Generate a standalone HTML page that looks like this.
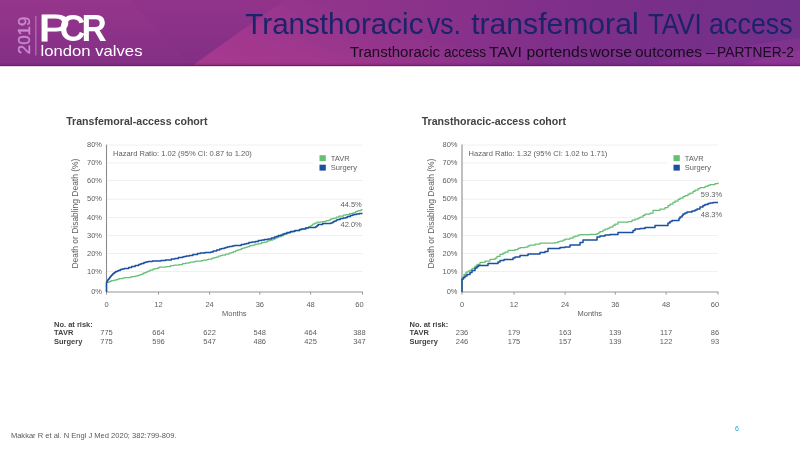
<!DOCTYPE html>
<html><head><meta charset="utf-8"><title>Transthoracic vs. transfemoral TAVI access</title>
<style>
html,body{margin:0;padding:0;background:#fff;}
body{width:800px;height:450px;overflow:hidden;}
svg{display:block;font-family:"Liberation Sans", Arial, sans-serif;}
</style></head><body>
<svg width="800" height="450" viewBox="0 0 800 450">
<rect width="800" height="450" fill="#fff"/>

<defs>
<linearGradient id="hg" x1="0" y1="0" x2="1" y2="0">
<stop offset="0" stop-color="#94358a"/>
<stop offset="0.36" stop-color="#93348b"/>
<stop offset="0.6" stop-color="#87318a"/>
<stop offset="0.72" stop-color="#7d2f89"/>
<stop offset="1" stop-color="#71308a"/>
</linearGradient>
<linearGradient id="sh" x1="0" y1="0" x2="0" y2="1">
<stop offset="0" stop-color="#000" stop-opacity="0"/>
<stop offset="1" stop-color="#000" stop-opacity="0.18"/>
</linearGradient>
<linearGradient id="dk" gradientUnits="userSpaceOnUse" x1="0" y1="0" x2="0" y2="66">
<stop offset="0" stop-color="#95358b"/>
<stop offset="0.3" stop-color="#90348a"/>
<stop offset="0.7" stop-color="#883187"/>
<stop offset="1" stop-color="#843085"/>
</linearGradient>
<linearGradient id="lt" gradientUnits="userSpaceOnUse" x1="270" y1="86" x2="306" y2="-18">
<stop offset="0" stop-color="#a6388f" stop-opacity="1"/>
<stop offset="0.35" stop-color="#a4388f" stop-opacity="0.9"/>
<stop offset="1" stop-color="#9a368d" stop-opacity="0"/>
</linearGradient>
</defs>
<rect x="0" y="0" width="800" height="70" fill="url(#hg)"/>
<polygon points="191.5,66 284,0 306,0 530,70 186,70" fill="url(#lt)"/>
<polygon points="0,0 284,0 191.5,66 186,70 0,70" fill="url(#dk)"/>
<polygon points="130,0 284,0 191.5,66" fill="#7c2c84" opacity="0.12"/>
<polygon points="640,66 700,54 750,45 800,38 800,70 640,70" fill="#8b3393" opacity="0.6"/>
<polygon points="735,66 800,50 800,70 735,70" fill="#9a379c" opacity="0.5"/>
<rect x="0" y="63.5" width="800" height="1.5" fill="#5a1d60" opacity="0.25"/>
<rect x="0" y="65" width="800" height="1" fill="#652266"/>
<rect x="0" y="66" width="800" height="1" fill="#e6d6e6"/>
<rect x="0" y="67" width="800" height="6" fill="#fff"/>
<!-- logo -->
<text transform="translate(29.8,54.2) rotate(-90)" font-size="16.8" fill="#c98bd0" stroke="#c98bd0" stroke-width="0.35" textLength="37.6" lengthAdjust="spacingAndGlyphs">2019</text>
<line x1="35.9" y1="15.9" x2="35.9" y2="55.4" stroke="#bd7fc4" stroke-width="1"/>
<text y="41.2" font-size="37.5" font-weight="bold" fill="#fff"><tspan x="38.63" textLength="31.46" lengthAdjust="spacingAndGlyphs" font-weight="normal" stroke="#fff" stroke-width="1.2" stroke-linejoin="round">P</tspan><tspan x="59.53" textLength="25.84" lengthAdjust="spacingAndGlyphs">C</tspan><tspan x="81.56" textLength="25.26" lengthAdjust="spacingAndGlyphs">R</tspan></text>
<text x="40.5" y="55.8" font-size="14.4" fill="#fff" textLength="102" lengthAdjust="spacingAndGlyphs">london valves</text>
<!-- titles -->
<text y="33.7" font-size="29.5" fill="#1b2369"><tspan x="245.3" textLength="178.2" lengthAdjust="spacingAndGlyphs">Transthoracic</tspan> <tspan x="427" textLength="34.0" lengthAdjust="spacingAndGlyphs">vs.</tspan> <tspan x="471.2" textLength="167.4" lengthAdjust="spacingAndGlyphs">transfemoral</tspan> <tspan x="647.9" textLength="53.8" lengthAdjust="spacingAndGlyphs">TAVI</tspan> <tspan x="709" textLength="83.8" lengthAdjust="spacingAndGlyphs">access</tspan></text>
<text y="57" font-size="15.4" fill="#1a0a20"><tspan x="349.9" textLength="90.2" lengthAdjust="spacingAndGlyphs">Transthoracic</tspan> <tspan x="443.9" textLength="42.2" lengthAdjust="spacingAndGlyphs">access</tspan> <tspan x="489" textLength="33.0" lengthAdjust="spacingAndGlyphs">TAVI</tspan> <tspan x="526.4" textLength="61.4" lengthAdjust="spacingAndGlyphs">portends</tspan> <tspan x="589.6" textLength="42.6" lengthAdjust="spacingAndGlyphs">worse</tspan> <tspan x="635" textLength="67.0" lengthAdjust="spacingAndGlyphs">outcomes</tspan> <tspan x="706" textLength="9.0" lengthAdjust="spacingAndGlyphs">–</tspan> <tspan x="717" textLength="77.0" lengthAdjust="spacingAndGlyphs">PARTNER-2</tspan></text>

<text x="66.2" y="125" font-size="10.6" font-weight="bold" fill="#434343">Transfemoral-access cohort</text>
<line x1="106.5" y1="145" x2="362.5" y2="145" stroke="#f0f0f0" stroke-width="1"/>
<line x1="106.5" y1="163" x2="313" y2="163" stroke="#f0f0f0" stroke-width="1"/>
<line x1="106.5" y1="180.5" x2="362.5" y2="180.5" stroke="#f0f0f0" stroke-width="1"/>
<line x1="106.5" y1="199.2" x2="362.5" y2="199.2" stroke="#f0f0f0" stroke-width="1"/>
<line x1="106.5" y1="217.6" x2="362.5" y2="217.6" stroke="#f0f0f0" stroke-width="1"/>
<line x1="106.5" y1="235.5" x2="362.5" y2="235.5" stroke="#f0f0f0" stroke-width="1"/>
<line x1="106.5" y1="253.4" x2="362.5" y2="253.4" stroke="#f0f0f0" stroke-width="1"/>
<line x1="106.5" y1="271.5" x2="362.5" y2="271.5" stroke="#f0f0f0" stroke-width="1"/>
<line x1="106.5" y1="144.6" x2="106.5" y2="292.5" stroke="#8c8c8c" stroke-width="1.1"/>
<line x1="106.0" y1="292" x2="362.9" y2="292" stroke="#969696" stroke-width="1.1"/>
<line x1="106.5" y1="292" x2="106.5" y2="294.6" stroke="#969696" stroke-width="1"/>
<text x="106.5" y="307.3" font-size="7.5" fill="#5e5e5e" text-anchor="middle">0</text>
<line x1="158.5" y1="292" x2="158.5" y2="294.6" stroke="#969696" stroke-width="1"/>
<text x="158.5" y="307.3" font-size="7.5" fill="#5e5e5e" text-anchor="middle">12</text>
<line x1="209.6" y1="292" x2="209.6" y2="294.6" stroke="#969696" stroke-width="1"/>
<text x="209.6" y="307.3" font-size="7.5" fill="#5e5e5e" text-anchor="middle">24</text>
<line x1="259.8" y1="292" x2="259.8" y2="294.6" stroke="#969696" stroke-width="1"/>
<text x="259.8" y="307.3" font-size="7.5" fill="#5e5e5e" text-anchor="middle">36</text>
<line x1="310.6" y1="292" x2="310.6" y2="294.6" stroke="#969696" stroke-width="1"/>
<text x="310.6" y="307.3" font-size="7.5" fill="#5e5e5e" text-anchor="middle">48</text>
<line x1="362.5" y1="292" x2="362.5" y2="294.6" stroke="#969696" stroke-width="1"/>
<text x="359.4" y="307.3" font-size="7.5" fill="#5e5e5e" text-anchor="middle">60</text>
<text x="102" y="146.5" font-size="7.5" fill="#5e5e5e" text-anchor="end">80%</text>
<text x="102" y="164.7" font-size="7.5" fill="#5e5e5e" text-anchor="end">70%</text>
<text x="102" y="182.7" font-size="7.5" fill="#5e5e5e" text-anchor="end">60%</text>
<text x="102" y="201.2" font-size="7.5" fill="#5e5e5e" text-anchor="end">50%</text>
<text x="102" y="219.7" font-size="7.5" fill="#5e5e5e" text-anchor="end">40%</text>
<text x="102" y="237.7" font-size="7.5" fill="#5e5e5e" text-anchor="end">30%</text>
<text x="102" y="255.7" font-size="7.5" fill="#5e5e5e" text-anchor="end">20%</text>
<text x="102" y="273.7" font-size="7.5" fill="#5e5e5e" text-anchor="end">10%</text>
<text x="102" y="294.0" font-size="7.5" fill="#5e5e5e" text-anchor="end">0%</text>
<text transform="translate(78.4,268.6) rotate(-90)" font-size="8.6" fill="#5e5e5e" textLength="110" lengthAdjust="spacingAndGlyphs">Death or Disabling Death (%)</text>
<text x="113" y="156.1" font-size="7.56" fill="#5e5e5e">Hazard Ratio: 1.02 (95% CI: 0.87 to 1.20)</text>
<text x="234.3" y="316.3" font-size="7.5" fill="#5e5e5e" text-anchor="middle">Months</text>
<rect x="319.5" y="155.2" width="6.3" height="5.9" fill="#66bf75"/>
<rect x="319.5" y="164.7" width="6.3" height="5.9" fill="#1b4f9f"/>
<text x="330.8" y="161.2" font-size="7.5" fill="#5e5e5e">TAVR</text>
<text x="330.8" y="170.3" font-size="7.5" fill="#5e5e5e">Surgery</text>
<polyline points="106.5,292.0 106.5,282.4 109.0,282.4 109.0,281.5 111.0,281.5 111.0,280.5 114.0,280.5 114.0,280.0 116.2,280.0 116.2,279.5 117.8,279.5 117.8,279.0 119.2,279.0 119.2,278.5 122.8,278.5 122.8,278.0 124.2,278.0 124.2,277.5 126.8,277.5 130.2,277.5 130.2,277.0 131.8,277.0 131.8,276.5 135.2,276.5 135.2,276.0 137.2,276.0 137.2,275.5 138.8,275.5 138.8,275.0 140.2,275.0 140.2,274.5 141.8,274.5 141.8,274.0 143.2,274.0 143.2,273.0 144.8,273.0 144.8,272.5 146.8,272.5 146.8,271.5 148.2,271.5 148.2,271.0 150.0,271.0 150.0,270.0 153.0,270.0 153.0,269.0 154.5,269.0 154.5,268.5 158.0,268.5 158.0,267.5 159.5,267.5 159.5,267.0 161.5,267.0 166.0,267.0 166.0,266.5 170.5,266.5 170.5,265.5 174.0,265.5 174.0,265.0 175.5,265.0 179.0,265.0 179.0,264.5 182.5,264.5 182.5,263.5 185.5,263.5 185.5,263.0 187.0,263.0 189.0,263.0 189.0,262.5 190.5,262.5 190.5,262.0 194.0,262.0 194.0,261.5 196.0,261.5 196.0,261.0 198.5,261.0 201.5,261.0 201.5,260.5 203.5,260.5 203.5,260.0 207.0,260.0 207.0,259.5 208.5,259.5 208.5,259.0 212.0,259.0 212.0,258.0 214.5,258.0 214.5,257.5 216.2,257.5 216.2,257.0 218.5,257.0 218.5,256.0 220.5,256.0 220.5,255.5 222.0,255.5 222.0,255.0 225.5,255.0 225.5,254.0 229.0,254.0 229.0,253.0 231.2,253.0 231.2,252.5 233.2,252.5 233.2,251.5 235.8,251.5 235.8,250.5 237.2,250.5 237.2,250.0 239.0,250.0 239.0,249.5 241.2,249.5 241.2,248.5 242.8,248.5 242.8,248.0 244.5,248.0 244.5,247.5 246.0,247.5 246.0,247.0 247.8,247.0 247.8,246.5 249.8,246.5 249.8,245.5 252.8,245.5 252.8,245.0 255.0,245.0 255.0,244.0 258.5,244.0 258.5,243.5 261.5,243.5 261.5,242.5 264.0,242.5 264.0,242.0 267.0,242.0 267.0,241.0 268.8,241.0 268.8,240.5 270.2,240.5 270.2,240.0 272.8,240.0 272.8,239.0 275.2,239.0 275.2,238.0 277.2,238.0 277.2,237.0 279.2,237.0 279.2,236.5 281.5,236.5 281.5,235.5 283.5,235.5 283.5,234.5 285.0,234.5 285.0,234.0 286.8,234.0 286.8,233.5 288.0,233.5 288.0,233.0 289.8,233.0 289.8,232.0 292.8,232.0 292.8,231.0 295.2,231.0 295.2,230.5 299.8,230.5 299.8,229.5 302.8,229.5 302.8,228.5 305.2,228.5 305.2,227.5 308.8,227.5 308.8,226.5 310.2,226.5 310.2,226.0 311.0,226.0 311.0,225.5 311.9,225.5 311.9,225.0 312.6,225.0 312.6,224.0 314.6,224.0 314.6,223.0 317.1,223.0 317.1,222.0 319.1,222.0 322.1,222.0 322.1,221.5 325.1,221.5 325.1,221.0 326.6,221.0 326.6,220.5 328.9,220.5 328.9,220.0 330.4,220.0 330.4,219.0 332.1,219.0 332.1,218.5 333.9,218.5 333.9,218.0 336.4,218.0 336.4,217.0 338.9,217.0 338.9,216.0 343.4,216.0 343.4,215.0 345.9,215.0 345.9,214.5 349.4,214.5 349.4,213.5 352.4,213.5 352.4,213.0 354.1,213.0 354.1,212.5 355.6,212.5 355.6,211.5 357.1,211.5 357.1,211.0 358.6,211.0 358.6,210.5 361.1,210.5 361.1,209.5 362.5,209.5" fill="none" stroke="#66bf75" stroke-width="1.25" stroke-linejoin="round"/>
<polyline points="106.5,292.0 106.5,282.4 107.0,282.4 107.0,281.5 107.4,281.5 107.4,280.5 107.9,280.5 107.9,279.5 108.9,279.5 108.9,278.5 109.5,278.5 109.5,277.5 110.4,277.5 110.4,276.5 111.1,276.5 111.1,275.5 111.7,275.5 111.7,275.0 112.6,275.0 112.6,274.0 113.3,274.0 113.3,273.5 114.2,273.5 114.2,272.5 115.7,272.5 115.7,271.5 117.2,271.5 117.2,271.0 118.4,271.0 118.4,270.5 120.2,270.5 120.2,269.5 122.2,269.5 122.2,269.0 124.2,269.0 124.2,268.5 128.7,268.5 128.7,267.5 131.7,267.5 131.7,266.5 135.2,266.5 135.2,265.5 138.7,265.5 138.7,264.5 140.2,264.5 140.2,264.0 141.7,264.0 141.7,263.5 143.9,263.5 143.9,262.5 145.9,262.5 145.9,262.0 147.9,262.0 147.9,261.5 152.4,261.5 152.4,261.0 154.4,261.0 157.9,261.0 160.9,261.0 160.9,260.5 165.4,260.5 165.4,260.0 166.9,260.0 171.4,260.0 171.4,259.0 172.9,259.0 174.9,259.0 174.9,258.5 178.4,258.5 178.4,257.5 179.9,257.5 182.4,257.5 182.4,257.0 183.9,257.0 183.9,256.5 186.4,256.5 186.4,256.0 189.4,256.0 189.4,255.5 192.9,255.5 192.9,254.5 197.4,254.5 197.4,253.5 200.4,253.5 200.4,253.0 204.9,253.0 204.9,252.5 207.9,252.5 210.9,252.5 210.9,252.0 213.2,252.0 213.2,251.0 216.7,251.0 216.7,250.0 219.7,250.0 219.7,249.0 221.7,249.0 221.7,248.5 224.2,248.5 224.2,248.0 225.7,248.0 225.7,247.5 227.2,247.5 227.2,247.0 229.2,247.0 229.2,246.5 232.2,246.5 232.2,246.0 234.2,246.0 234.2,245.5 236.7,245.5 241.2,245.5 241.2,244.5 244.2,244.5 244.2,244.0 246.4,244.0 246.4,243.5 248.9,243.5 248.9,242.5 251.9,242.5 251.9,242.0 255.4,242.0 255.4,241.5 258.4,241.5 258.4,240.5 261.9,240.5 261.9,240.0 264.4,240.0 264.4,239.5 267.9,239.5 267.9,239.0 271.4,239.0 271.4,238.0 274.4,238.0 274.4,237.0 276.2,237.0 276.2,236.5 278.2,236.5 278.2,235.5 280.7,235.5 280.7,235.0 282.9,235.0 282.9,234.0 284.4,234.0 284.4,233.5 286.9,233.5 286.9,232.5 290.4,232.5 290.4,231.5 294.9,231.5 294.9,230.5 299.4,230.5 299.4,229.5 301.4,229.5 301.4,229.0 305.9,229.0 305.9,228.0 308.4,228.0 308.4,227.5 311.9,227.5 315.4,227.5 315.4,227.0 316.3,227.0 316.3,226.5 317.1,226.5 317.1,225.5 318.2,225.5 318.2,224.5 322.7,224.5 322.7,223.5 324.7,223.5 329.2,223.5 330.9,223.5 330.9,223.0 332.2,223.0 332.2,222.5 333.4,222.5 333.4,221.5 334.9,221.5 334.9,221.0 336.4,221.0 336.4,220.0 337.9,220.0 337.9,219.5 340.2,219.5 340.2,218.5 343.2,218.5 343.2,218.0 344.7,218.0 345.9,218.0 345.9,217.5 347.4,217.5 347.4,216.5 350.4,216.5 350.4,215.5 352.4,215.5 352.4,215.0 353.9,215.0 353.9,214.5 356.4,214.5 356.4,214.0 359.4,214.0 359.4,213.5 362.4,213.5 362.5,213.5" fill="none" stroke="#1b4f9f" stroke-width="1.5" stroke-linejoin="round"/>
<text x="361.8" y="207.1" font-size="7.5" fill="#5e5e5e" text-anchor="end">44.5%</text>
<text x="361.8" y="227.1" font-size="7.5" fill="#5e5e5e" text-anchor="end">42.0%</text>
<text x="54" y="326.7" font-size="7.5" font-weight="bold" fill="#434343">No. at risk:</text>
<text x="54" y="335.4" font-size="7.5" font-weight="bold" fill="#434343">TAVR</text>
<text x="54" y="344.4" font-size="7.5" font-weight="bold" fill="#434343">Surgery</text>
<text x="106.5" y="335.4" font-size="7.5" fill="#5e5e5e" text-anchor="middle">775</text>
<text x="106.5" y="344.4" font-size="7.5" fill="#5e5e5e" text-anchor="middle">775</text>
<text x="158.5" y="335.4" font-size="7.5" fill="#5e5e5e" text-anchor="middle">664</text>
<text x="158.5" y="344.4" font-size="7.5" fill="#5e5e5e" text-anchor="middle">596</text>
<text x="209.6" y="335.4" font-size="7.5" fill="#5e5e5e" text-anchor="middle">622</text>
<text x="209.6" y="344.4" font-size="7.5" fill="#5e5e5e" text-anchor="middle">547</text>
<text x="259.8" y="335.4" font-size="7.5" fill="#5e5e5e" text-anchor="middle">548</text>
<text x="259.8" y="344.4" font-size="7.5" fill="#5e5e5e" text-anchor="middle">486</text>
<text x="310.6" y="335.4" font-size="7.5" fill="#5e5e5e" text-anchor="middle">464</text>
<text x="310.6" y="344.4" font-size="7.5" fill="#5e5e5e" text-anchor="middle">425</text>
<text x="359.4" y="335.4" font-size="7.5" fill="#5e5e5e" text-anchor="middle">388</text>
<text x="359.4" y="344.4" font-size="7.5" fill="#5e5e5e" text-anchor="middle">347</text>
<text x="421.7" y="125" font-size="10.6" font-weight="bold" fill="#434343">Transthoracic-access cohort</text>
<line x1="462.0" y1="145" x2="718.0" y2="145" stroke="#f0f0f0" stroke-width="1"/>
<line x1="462.0" y1="163" x2="667.0" y2="163" stroke="#f0f0f0" stroke-width="1"/>
<line x1="462.0" y1="180.5" x2="718.0" y2="180.5" stroke="#f0f0f0" stroke-width="1"/>
<line x1="462.0" y1="199.2" x2="718.0" y2="199.2" stroke="#f0f0f0" stroke-width="1"/>
<line x1="462.0" y1="217.6" x2="718.0" y2="217.6" stroke="#f0f0f0" stroke-width="1"/>
<line x1="462.0" y1="235.5" x2="718.0" y2="235.5" stroke="#f0f0f0" stroke-width="1"/>
<line x1="462.0" y1="253.4" x2="718.0" y2="253.4" stroke="#f0f0f0" stroke-width="1"/>
<line x1="462.0" y1="271.5" x2="718.0" y2="271.5" stroke="#f0f0f0" stroke-width="1"/>
<line x1="462.0" y1="144.6" x2="462.0" y2="292.5" stroke="#8c8c8c" stroke-width="1.1"/>
<line x1="461.5" y1="292" x2="718.4" y2="292" stroke="#969696" stroke-width="1.1"/>
<line x1="462.0" y1="292" x2="462.0" y2="294.6" stroke="#969696" stroke-width="1"/>
<text x="462.0" y="307.3" font-size="7.5" fill="#5e5e5e" text-anchor="middle">0</text>
<line x1="514.0" y1="292" x2="514.0" y2="294.6" stroke="#969696" stroke-width="1"/>
<text x="514.0" y="307.3" font-size="7.5" fill="#5e5e5e" text-anchor="middle">12</text>
<line x1="565.1" y1="292" x2="565.1" y2="294.6" stroke="#969696" stroke-width="1"/>
<text x="565.1" y="307.3" font-size="7.5" fill="#5e5e5e" text-anchor="middle">24</text>
<line x1="615.3" y1="292" x2="615.3" y2="294.6" stroke="#969696" stroke-width="1"/>
<text x="615.3" y="307.3" font-size="7.5" fill="#5e5e5e" text-anchor="middle">36</text>
<line x1="666.1" y1="292" x2="666.1" y2="294.6" stroke="#969696" stroke-width="1"/>
<text x="666.1" y="307.3" font-size="7.5" fill="#5e5e5e" text-anchor="middle">48</text>
<line x1="718.0" y1="292" x2="718.0" y2="294.6" stroke="#969696" stroke-width="1"/>
<text x="714.9" y="307.3" font-size="7.5" fill="#5e5e5e" text-anchor="middle">60</text>
<text x="457.5" y="146.5" font-size="7.5" fill="#5e5e5e" text-anchor="end">80%</text>
<text x="457.5" y="164.7" font-size="7.5" fill="#5e5e5e" text-anchor="end">70%</text>
<text x="457.5" y="182.7" font-size="7.5" fill="#5e5e5e" text-anchor="end">60%</text>
<text x="457.5" y="201.2" font-size="7.5" fill="#5e5e5e" text-anchor="end">50%</text>
<text x="457.5" y="219.7" font-size="7.5" fill="#5e5e5e" text-anchor="end">40%</text>
<text x="457.5" y="237.7" font-size="7.5" fill="#5e5e5e" text-anchor="end">30%</text>
<text x="457.5" y="255.7" font-size="7.5" fill="#5e5e5e" text-anchor="end">20%</text>
<text x="457.5" y="273.7" font-size="7.5" fill="#5e5e5e" text-anchor="end">10%</text>
<text x="457.5" y="294.0" font-size="7.5" fill="#5e5e5e" text-anchor="end">0%</text>
<text transform="translate(433.9,268.6) rotate(-90)" font-size="8.6" fill="#5e5e5e" textLength="110" lengthAdjust="spacingAndGlyphs">Death or Disabling Death (%)</text>
<text x="468.5" y="156.1" font-size="7.56" fill="#5e5e5e">Hazard Ratio: 1.32 (95% CI: 1.02 to 1.71)</text>
<text x="589.8" y="316.3" font-size="7.5" fill="#5e5e5e" text-anchor="middle">Months</text>
<rect x="673.5" y="155.2" width="6.3" height="5.9" fill="#66bf75"/>
<rect x="673.5" y="164.7" width="6.3" height="5.9" fill="#1b4f9f"/>
<text x="684.8" y="161.2" font-size="7.5" fill="#5e5e5e">TAVR</text>
<text x="684.8" y="170.3" font-size="7.5" fill="#5e5e5e">Surgery</text>
<polyline points="462.0,292.0 462.0,277.0 464.0,277.0 464.0,274.4 466.0,274.4 466.0,272.0 468.0,272.0 468.0,271.0 470.0,271.0 470.0,270.0 472.0,270.0 472.0,268.4 475.0,268.4 475.0,266.0 477.0,266.0 477.0,264.4 480.0,264.4 480.0,262.4 485.0,262.4 485.0,261.0 490.0,261.0 490.0,259.4 495.0,259.4 495.0,258.0 497.0,258.0 497.0,256.4 500.0,256.4 500.0,254.4 503.0,254.4 503.0,253.0 505.0,253.0 505.0,252.0 508.0,252.0 508.0,250.4 515.0,250.4 515.0,249.6 518.0,249.6 518.0,248.4 520.0,248.4 520.0,247.6 525.0,247.6 525.0,247.0 528.0,247.0 528.0,245.8 530.0,245.8 530.0,245.0 535.0,245.0 535.0,244.0 540.0,244.0 540.0,243.0 555.0,243.0 555.0,242.6 558.0,242.6 558.0,241.6 560.0,241.6 560.0,241.0 563.0,241.0 563.0,240.0 565.0,240.0 565.0,239.0 570.0,239.0 570.0,238.0 573.0,238.0 573.0,236.8 575.0,236.8 575.0,236.0 578.0,236.0 578.0,235.0 580.0,235.0 580.0,234.6 590.0,234.6 590.0,234.4 597.0,234.4 597.0,233.6 599.0,233.6 599.0,232.4 600.0,232.4 600.0,231.6 603.0,231.6 603.0,230.2 605.0,230.2 605.0,229.0 608.0,229.0 608.0,228.0 610.0,228.0 610.0,227.0 613.0,227.0 613.0,225.4 615.0,225.4 615.0,224.0 618.0,224.0 618.0,222.0 628.0,222.0 628.0,221.6 632.0,221.6 632.0,220.2 635.0,220.2 635.0,219.0 638.0,219.0 638.0,218.0 640.0,218.0 640.0,217.0 643.0,217.0 643.0,215.4 645.0,215.4 645.0,214.0 650.0,214.0 650.0,213.0 653.0,213.0 653.0,210.4 660.0,210.4 660.0,209.0 665.0,209.0 665.0,207.6 668.0,207.6 668.0,205.6 670.0,205.6 670.0,204.0 673.0,204.0 673.0,202.4 675.0,202.4 675.0,201.0 678.0,201.0 678.0,199.4 680.0,199.4 680.0,198.0 683.0,198.0 683.0,196.6 685.0,196.6 685.0,195.6 688.0,195.6 688.0,194.2 690.0,194.2 690.0,193.0 693.0,193.0 693.0,191.4 695.0,191.4 695.0,190.0 698.0,190.0 698.0,188.6 700.0,188.6 700.0,187.6 705.0,187.6 705.0,186.4 708.0,186.4 708.0,185.4 710.0,185.4 710.0,184.6 715.0,184.6 715.0,183.6 718.0,183.6 718.0,182.4" fill="none" stroke="#66bf75" stroke-width="1.25" stroke-linejoin="round"/>
<polyline points="462.0,292.0 462.0,279.0 463.5,279.0 463.5,277.5 465.0,277.5 465.0,276.0 467.0,276.0 467.0,274.4 470.0,274.4 470.0,272.4 472.0,272.4 472.0,270.4 475.0,270.4 475.0,268.0 477.0,268.0 477.0,266.4 478.5,266.4 478.5,265.6 485.0,265.6 488.0,265.6 488.0,263.4 496.0,263.4 498.0,263.4 498.0,262.0 500.0,262.0 500.0,260.6 504.0,260.6 504.0,259.4 510.0,259.4 513.0,259.4 513.0,258.0 515.0,258.0 515.0,257.0 520.0,257.0 520.0,255.6 525.0,255.6 528.0,255.6 528.0,254.0 535.0,254.0 540.0,254.0 540.0,252.4 545.0,252.4 545.0,251.4 548.0,251.4 548.0,248.6 557.0,248.6 560.0,248.6 560.0,247.6 565.0,247.6 565.0,247.0 570.0,247.0 570.0,245.0 575.0,245.0 580.0,245.0 580.0,242.4 583.0,242.4 583.0,240.0 595.0,240.0 597.0,240.0 597.0,237.0 600.0,237.0 600.0,236.0 605.0,236.0 605.0,235.0 610.0,235.0 610.0,234.4 615.0,234.4 618.0,234.4 618.0,232.4 630.0,232.4 633.0,232.4 633.0,230.4 635.0,230.4 635.0,229.0 640.0,229.0 640.0,228.6 645.0,228.6 645.0,227.6 652.0,227.6 655.0,227.6 655.0,225.6 665.0,225.6 668.0,225.6 668.0,223.0 670.0,223.0 670.0,221.6 672.0,221.6 672.0,220.4 677.0,220.4 679.0,220.4 679.0,218.4 680.0,218.4 680.0,217.0 682.0,217.0 682.0,215.4 683.0,215.4 683.0,214.0 685.0,214.0 685.0,213.0 687.0,213.0 687.0,212.0 692.0,212.0 692.0,211.0 695.0,211.0 695.0,210.0 697.0,210.0 697.0,209.0 700.0,209.0 700.0,207.0 703.0,207.0 703.0,205.4 705.0,205.4 705.0,204.4 708.0,204.4 708.0,203.6 710.0,203.6 710.0,203.0 713.0,203.0 713.0,202.4 718.0,202.4" fill="none" stroke="#1b4f9f" stroke-width="1.5" stroke-linejoin="round"/>
<text x="722.1" y="196.7" font-size="7.5" fill="#5e5e5e" text-anchor="end">59.3%</text>
<text x="722.1" y="217.3" font-size="7.5" fill="#5e5e5e" text-anchor="end">48.3%</text>
<text x="409.5" y="326.7" font-size="7.5" font-weight="bold" fill="#434343">No. at risk:</text>
<text x="409.5" y="335.4" font-size="7.5" font-weight="bold" fill="#434343">TAVR</text>
<text x="409.5" y="344.4" font-size="7.5" font-weight="bold" fill="#434343">Surgery</text>
<text x="462.0" y="335.4" font-size="7.5" fill="#5e5e5e" text-anchor="middle">236</text>
<text x="462.0" y="344.4" font-size="7.5" fill="#5e5e5e" text-anchor="middle">246</text>
<text x="514.0" y="335.4" font-size="7.5" fill="#5e5e5e" text-anchor="middle">179</text>
<text x="514.0" y="344.4" font-size="7.5" fill="#5e5e5e" text-anchor="middle">175</text>
<text x="565.1" y="335.4" font-size="7.5" fill="#5e5e5e" text-anchor="middle">163</text>
<text x="565.1" y="344.4" font-size="7.5" fill="#5e5e5e" text-anchor="middle">157</text>
<text x="615.3" y="335.4" font-size="7.5" fill="#5e5e5e" text-anchor="middle">139</text>
<text x="615.3" y="344.4" font-size="7.5" fill="#5e5e5e" text-anchor="middle">139</text>
<text x="666.1" y="335.4" font-size="7.5" fill="#5e5e5e" text-anchor="middle">117</text>
<text x="666.1" y="344.4" font-size="7.5" fill="#5e5e5e" text-anchor="middle">122</text>
<text x="714.9" y="335.4" font-size="7.5" fill="#5e5e5e" text-anchor="middle">86</text>
<text x="714.9" y="344.4" font-size="7.5" fill="#5e5e5e" text-anchor="middle">93</text>

<text x="10.9" y="438" font-size="7.8" fill="#595959" textLength="165.6" lengthAdjust="spacingAndGlyphs">Makkar R et al. N Engl J Med 2020; 382:799-809.</text>
<text x="735" y="431" font-size="7" fill="#2aa0c8">6</text>

</svg>
</body></html>
